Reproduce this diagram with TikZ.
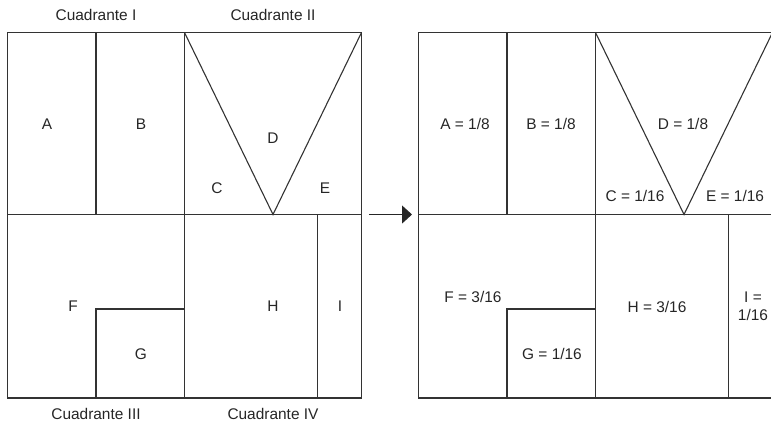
\documentclass[tikz,border=0pt]{standalone}
\usepackage{fontspec}
\setmainfont{Liberation Sans}
\usetikzlibrary{arrows.meta}

\begin{document}
\begin{tikzpicture}[x=1bp,y=-1bp,
	wall/.style={line width=1.1bp,draw=black!80},
	lbl/.style={inner sep=0pt,font=\fontsize{15.5}{18}\selectfont,text=black!85,align=center}]

	\useasboundingbox (0,0) rectangle (771,428);
	\clip (0,0) rectangle (771,428);

	% both squares share the same cut
	\foreach \ox in {7.5,418.5} {
		\draw[wall] (\ox,32.5) rectangle ++(354,365.5);
		\draw[wall] (\ox,214.5) -- ++(354,0);
		\draw[wall] (\ox+88.5,32.5) -- (\ox+88.5,214.5);
		\draw[wall] (\ox+177,32.5) -- (\ox+177,398);
		\draw[wall] (\ox+177,32.5) -- (\ox+265.5,214.5) -- (\ox+354,32.5);
		\draw[wall] (\ox+88.5,398) -- (\ox+88.5,309) -- (\ox+177,309);
		\draw[wall] (\ox+310,214.5) -- (\ox+310,398);
	}

	% quadrant names
	\node[lbl] (q1) at (96,15) {Cuadrante I};
	\node[lbl] (q2) at (273,15) {Cuadrante II};
	\node[lbl] (q3) at (96,414) {Cuadrante III};
	\node[lbl] (q4) at (273,414) {Cuadrante IV};

	% left pieces
	\node[lbl] (a) at (47,124) {A};
	\node[lbl] (b) at (141,124) {B};
	\node[lbl] (d) at (273,138) {D};
	\node[lbl] (c) at (217,188) {C};
	\node[lbl] (e) at (325,188) {E};
	\node[lbl] (f) at (73,306) {F};
	\node[lbl] (g) at (141,354) {G};
	\node[lbl] (h) at (273,306) {H};
	\node[lbl] (i) at (340,306) {I};

	% arrow between
	\coordinate (from) at (369,214.5);
	\coordinate (to) at (412,214.5);
	\draw[line width=1.1bp,draw=black!85,-{Triangle[length=10bp,width=18bp]}] (from) -- (to);

	% right pieces with areas
	\node[lbl] (ra) at (465,124) {A = 1/8};
	\node[lbl] (rb) at (551,124) {B = 1/8};
	\node[lbl] (rd) at (683,124) {D = 1/8};
	\node[lbl] (rc) at (635,196) {C = 1/16};
	\node[lbl] (re) at (735,196) {E = 1/16};
	\node[lbl] (rf) at (473,297) {F = 3/16};
	\node[lbl] (rg) at (552,354) {G = 1/16};
	\node[lbl] (rh) at (657,307) {H = 3/16};
	\node[lbl] (ri) at (753,306) {I =\\1/16};

\end{tikzpicture}
\end{document}
